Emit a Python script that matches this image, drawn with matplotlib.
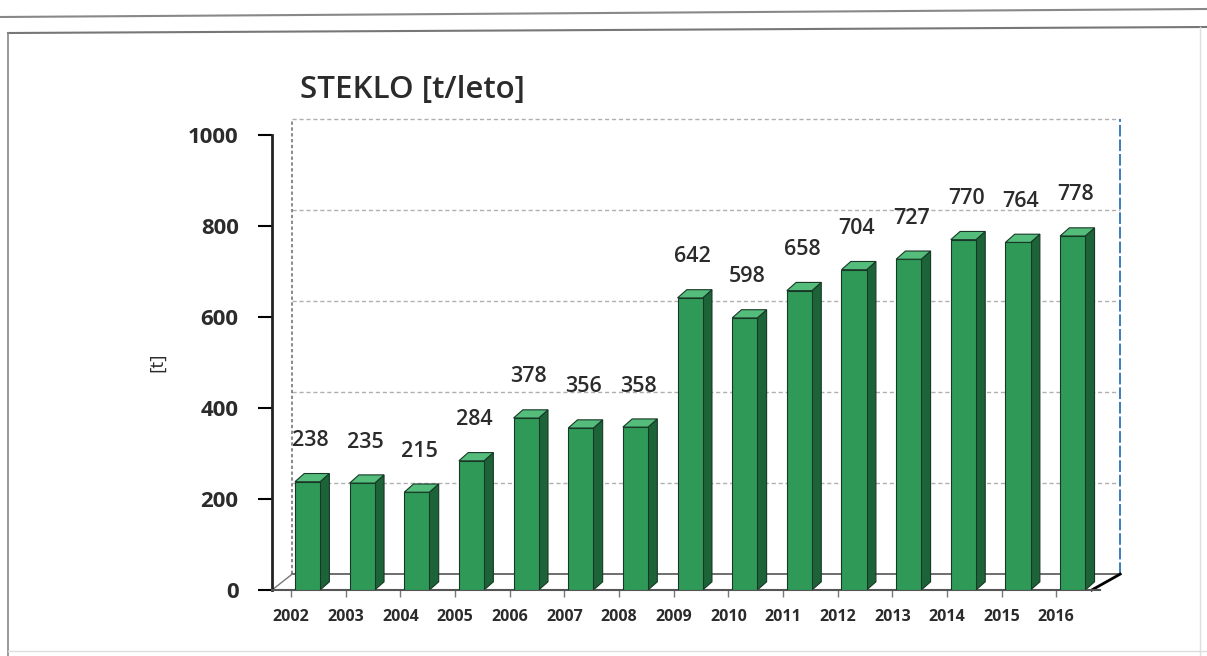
import numpy as np
import matplotlib.pyplot as plt
from matplotlib.patches import Polygon
from matplotlib.lines import Line2D

years = ['2002', '2003', '2004', '2005', '2006', '2007', '2008', '2009',
         '2010', '2011', '2012', '2013', '2014', '2015', '2016']
values = [238, 235, 215, 284, 378, 356, 358, 642, 598, 658, 704, 727, 770, 764, 778]
yticks = [0, 200, 400, 600, 800, 1000]

title = 'STEKLO [t/leto]'
ylabel = '[t]'

front = '#2f9a58'
side = '#1c6338'
top = '#55bd7c'
edge = '#173826'
text_col = '#2b2b2b'

plt.rcParams['font.family'] = ['Open Sans', 'DejaVu Sans']

fig = plt.figure(figsize=(12.07, 6.56), dpi=100)
ax = fig.add_axes([272 / 1207, 66 / 656, (1100 - 272) / 1207, 455 / 656])

x = np.arange(len(years))
width = 0.46
# 3D depth in data units (back wall and bar depth)
wall_dx, wall_dy = 0.37, 35
bar_dx, bar_dy = 0.17, 18
x_left, x_right = -0.65, 14.5

ax.set_xlim(x_left, x_right)
ax.set_ylim(0, 1000)

# back wall and floor
for y in yticks[1:]:
    ax.plot([x_left + wall_dx, x_right + wall_dx], [y + wall_dy] * 2,
            color='#b0b0b0', lw=1, ls=(0, (3, 2)), clip_on=False, zorder=1)
ax.plot([x_left + wall_dx] * 2, [wall_dy, 1000 + wall_dy], color='#777777',
        lw=1.2, ls=(0, (2, 1.5)), clip_on=False, zorder=1)
ax.plot([x_right + wall_dx] * 2, [wall_dy, 1000 + wall_dy], color='#3b7dbd',
        lw=1.4, ls=(0, (6, 1.5)), clip_on=False, zorder=1)
ax.plot([x_left + wall_dx, x_right + wall_dx], [wall_dy, wall_dy],
        color='#555555', lw=1.2, clip_on=False, zorder=1)
ax.plot([x_left, x_left + wall_dx], [0, wall_dy], color='#777777', lw=1,
        clip_on=False, zorder=1)
ax.plot([x_right - 0.15, x_right + wall_dx], [0, wall_dy], color='black',
        lw=2, clip_on=False, zorder=1)

# bars with side and top faces
ax.bar(x, values, width=width, color=front, edgecolor=edge, lw=0.8, zorder=3)
for xi, v in zip(x, values):
    r = xi + width / 2
    l = xi - width / 2
    ax.add_patch(Polygon([(r, 0), (r + bar_dx, bar_dy), (r + bar_dx, v + bar_dy), (r, v)],
                         closed=True, fc=side, ec=edge, lw=0.8, zorder=2.5))
    ax.add_patch(Polygon([(l, v), (r, v), (r + bar_dx, v + bar_dy), (l + bar_dx, v + bar_dy)],
                         closed=True, fc=top, ec=edge, lw=0.8, zorder=3.5))
    ax.annotate(str(v), (xi + 0.05, v), xytext=(0, 22), textcoords='offset points',
                ha='center', va='bottom', fontsize=15.5, fontweight='semibold',
                color=text_col, zorder=5)

for s in ['top', 'right']:
    ax.spines[s].set_visible(False)
ax.spines['left'].set_linewidth(2)
ax.spines['left'].set_color('#222222')
ax.spines['left'].set_bounds(0, 1000)
ax.spines['bottom'].set_linewidth(1.5)
ax.spines['bottom'].set_color('#555555')

ax.set_yticks(yticks)
ax.set_yticklabels([str(t) for t in yticks], fontsize=16, fontweight='bold', color=text_col)
ax.tick_params(axis='y', length=10, width=1.5, pad=14)
ax.set_xticks(x - 0.3)
ax.set_xticklabels(years, fontsize=11.5, fontweight='bold', color=text_col)
ax.tick_params(axis='x', length=5, width=1, pad=9, color='#777777')
ax.set_ylabel(ylabel, fontsize=14, color=text_col, labelpad=16)

fig.text(300 / 1207, 1 - 90 / 656, title, fontsize=22.5, fontweight='semibold',
         color=text_col, va='center', ha='left')

# page frame lines
fig.add_artist(Line2D([0, 1], [1 - 17 / 656, 1 - 9 / 656], color='#888888', lw=1.5))
fig.add_artist(Line2D([8 / 1207, 1], [1 - 33 / 656, 1 - 27 / 656], color='#777777', lw=1.5))
fig.add_artist(Line2D([8 / 1207, 8 / 1207], [1 - 33 / 656, 0], color='#888888', lw=1.2))
fig.add_artist(Line2D([1200 / 1207, 1200 / 1207], [1 - 27 / 656, 0], color='#dddddd', lw=1))
fig.add_artist(Line2D([8 / 1207, 1], [5 / 656, 5 / 656], color='#dddddd', lw=1))

fig.savefig('out.png', dpi=100)
